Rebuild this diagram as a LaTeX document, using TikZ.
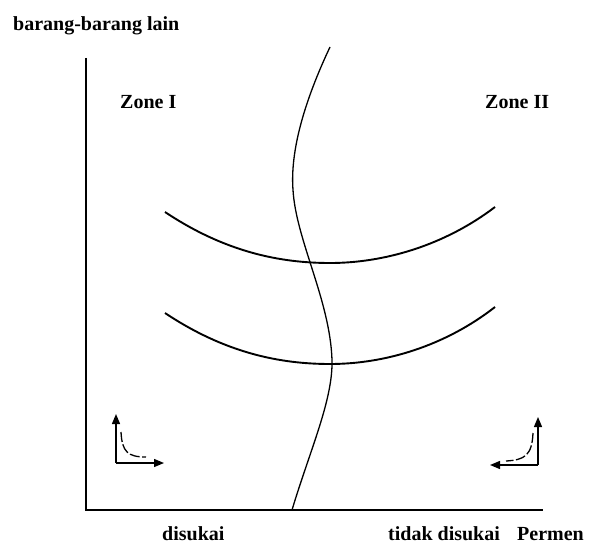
\documentclass[tikz,border=0pt]{standalone}
\usepackage{fontspec}
\setmainfont{Liberation Serif}
\usetikzlibrary{arrows.meta}
\begin{document}
\begin{tikzpicture}[x=1pt,y=-1pt,
  lbl/.style={anchor=base west,inner sep=0pt,font=\fontsize{20}{24}\selectfont\bfseries},
  axisline/.style={line width=1.8pt},
  icurve/.style={line width=1.9pt},
  zcurve/.style={line width=1.3pt},
  smallarr/.style={line width=1.3pt,-{Triangle[length=10pt,width=8pt]}},
  dashcurve/.style={line width=1.3pt,dash pattern=on 10pt off 2.5pt}]
\useasboundingbox (0,0) rectangle (593,545);
% axes
\coordinate (top) at (86,58);
\coordinate (origin) at (86,510);
\coordinate (xend) at (543,510);
\draw[axisline] (top) -- (origin) -- (xend);
% indifference curves
\coordinate (u1) at (165,212); \coordinate (um) at (330,263); \coordinate (u2) at (495,207);
\draw[icurve] (u1) .. controls (225,252) and (280,263) .. (um) .. controls (385,263) and (445,245) .. (u2);
\coordinate (l1) at (165,313); \coordinate (lm) at (330,364); \coordinate (l2) at (495,307);
\draw[icurve] (l1) .. controls (225,353) and (280,364) .. (lm) .. controls (385,364) and (445,346) .. (l2);
% zone boundary
\coordinate (z0) at (330,47); \coordinate (z1) at (293,190); \coordinate (z2) at (332,360); \coordinate (z3) at (292,510);
\draw[zcurve] (z0) .. controls (305,100) and (290,150) .. (z1) .. controls (296,240) and (330,300) .. (z2) .. controls (333,400) and (310,450) .. (z3);
% small left arrows
\coordinate (c1) at (116,463);
\coordinate (c1v) at (116,414);
\coordinate (c1h) at (164,463);
\draw[smallarr] (c1) -- (c1v);
\draw[smallarr] (c1) -- (c1h);
\coordinate (d1a) at (121,432); \coordinate (d1b) at (146,457);
\draw[dashcurve] (d1a) .. controls (122,452) and (128,457) .. (d1b);
% small right arrows
\coordinate (c2) at (538,465);
\coordinate (c2v) at (538,417);
\coordinate (c2h) at (490,465);
\draw[smallarr] (c2) -- (c2v);
\draw[smallarr] (c2) -- (c2h);
\coordinate (d2a) at (533,433); \coordinate (d2b) at (506,461);
\draw[dashcurve] (d2a) .. controls (532,455) and (525,460) .. (d2b);
% labels
\node[lbl] (ylab) at (13,31) {barang-barang lain};
\node[lbl] (z1lab) at (120,109) {Zone I};
\node[lbl] (z2lab) at (485,109) {Zone II};
\node[lbl] (dis) at (162,540) {disukai};
\node[lbl] (tdis) at (388,540) {tidak disukai};
\node[lbl] (xlab) at (517,540) {Permen};
\end{tikzpicture}
\end{document}
